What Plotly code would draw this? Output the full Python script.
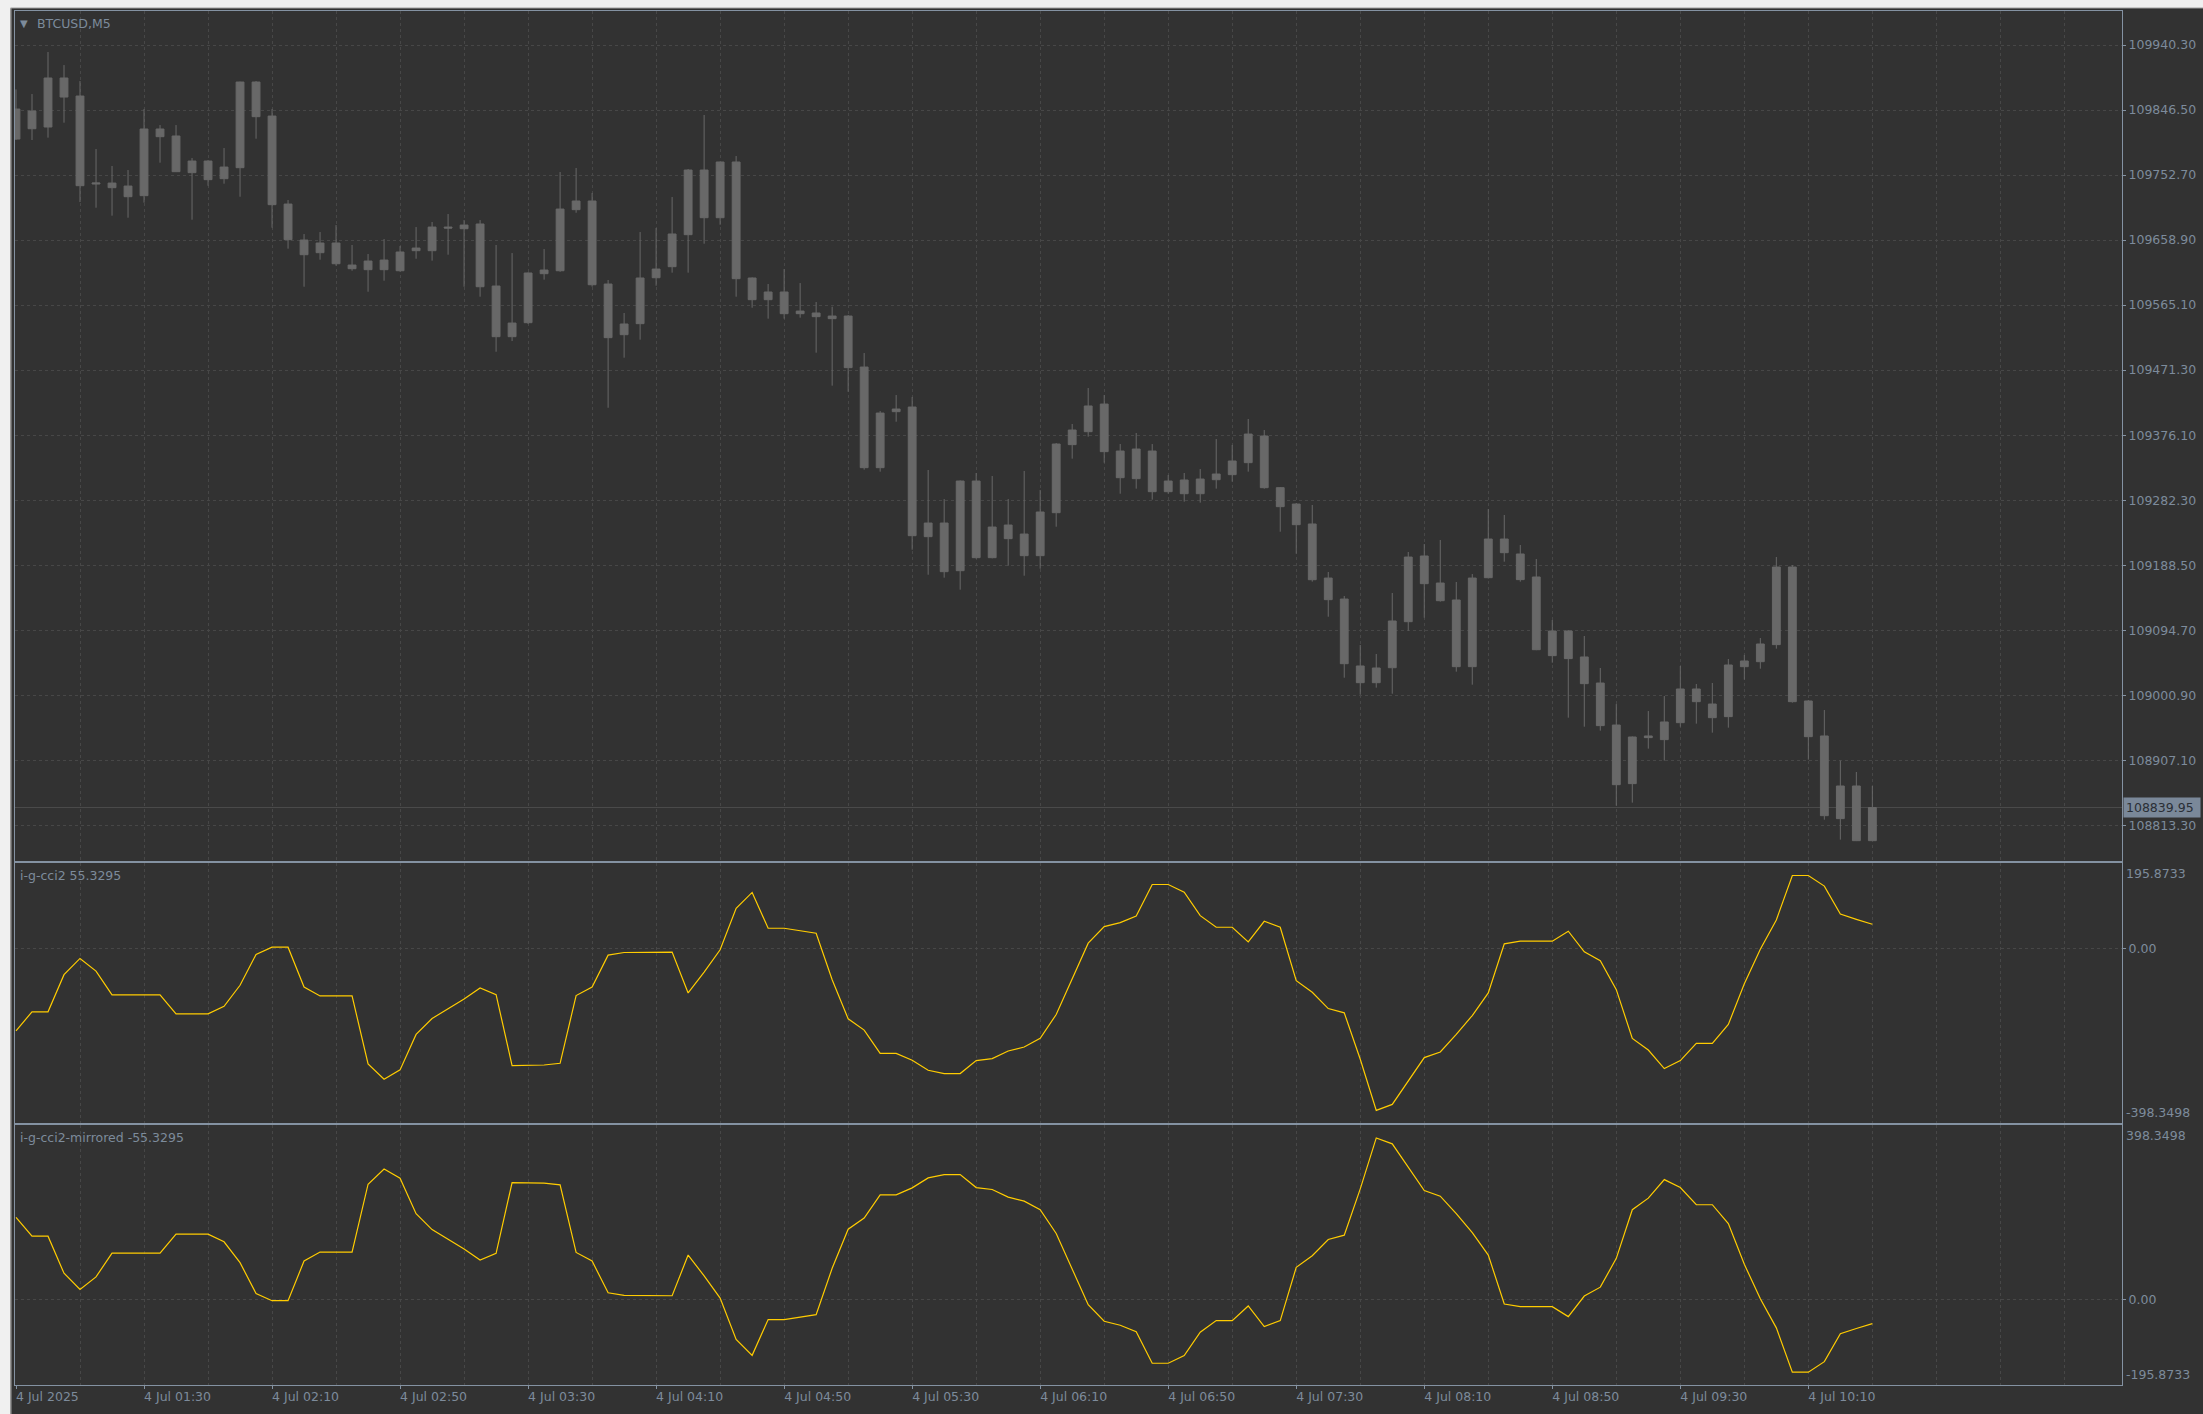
import pandas as pd
import plotly.graph_objects as go

# ---------------- data ----------------
symbol_title = "BTCUSD,M5"
start_time = "2025-07-04 00:50"

open_ = [109804.6, 109845.0, 109822.0, 109892.7, 109866.7, 109739.7, 109741.1, 109736.8, 109722.9, 109819.1,
         109809.0, 109756.1, 109772.9, 109747.4, 109763.3, 109886.9, 109837.8, 109710.8, 109658.9, 109640.6,
         109654.6, 109622.8, 109616.1, 109630.0, 109614.6, 109647.3, 109643.5, 109677.6, 109675.2, 109682.0,
         109592.5, 109519.4, 109539.6, 109610.3, 109614.6, 109702.7, 109715.2, 109595.4, 109522.3, 109538.2,
         109604.5, 109620.4, 109666.6, 109759.9, 109691.1, 109771.5, 109604.1, 109572.8, 109583.9, 109556.4,
         109553.6, 109545.4, 109549.2, 109475.6, 109330.4, 109411.2, 109417.9, 109230.8, 109250.5, 109181.7,
         109311.1, 109200.5, 109247.6, 109234.6, 109203.4, 109265.4, 109363.6, 109382.3, 109422.2, 109354.4,
         109314.5, 109354.4, 109295.7, 109312.6, 109292.8, 109313.0, 109320.3, 109337.6, 109376.1, 109301.5,
         109277.9, 109249.1, 109171.1, 109140.8, 109044.2, 109020.1, 109041.7, 109108.1, 109202.9, 109163.9,
         109139.4, 109043.2, 109171.6, 109227.4, 109205.8, 109172.6, 109059.1, 109094.7, 109057.2, 109019.6,
         108959.0, 108874.4, 108943.2, 108937.9, 108962.4, 109011.0, 108989.3, 108971.1, 109043.2, 109050.4,
         109075.0, 109187.0, 108993.7, 108943.2, 108823.9, 108871.0, 108792.1]
high = [109876.3, 109869.6, 109930.2, 109911.4, 109888.3, 109790.2, 109765.7, 109759.9, 109847.9, 109824.8,
        109824.8, 109777.2, 109774.3, 109791.6, 109887.5, 109888.3, 109847.9, 109716.6, 109667.5, 109670.4,
        109680.5, 109651.7, 109638.7, 109660.3, 109650.2, 109677.6, 109684.9, 109696.4, 109687.7, 109687.7,
        109651.7, 109640.1, 109612.2, 109645.9, 109757.0, 109762.8, 109726.7, 109601.2, 109553.6, 109670.4,
        109676.2, 109720.9, 109761.4, 109839.3, 109772.0, 109780.1, 109605.0, 109595.4, 109617.0, 109596.8,
        109569.4, 109562.7, 109550.7, 109495.8, 109412.1, 109435.2, 109432.3, 109327.0, 109285.1, 109312.0,
        109322.7, 109318.3, 109285.1, 109325.6, 109298.1, 109366.0, 109393.4, 109445.3, 109435.2, 109364.5,
        109380.4, 109364.5, 109319.8, 109322.7, 109328.4, 109371.7, 109363.1, 109400.6, 109384.7, 109302.5,
        109279.4, 109276.5, 109179.8, 109145.2, 109074.5, 109061.5, 109149.5, 109208.7, 109220.2, 109226.0,
        109165.4, 109176.9, 109270.7, 109262.1, 109218.8, 109198.6, 109110.6, 109096.1, 109087.5, 109041.3,
        108989.3, 108942.5, 108979.2, 109000.9, 109044.2, 109018.2, 109019.6, 109054.3, 109060.0, 109084.6,
        109201.5, 109189.9, 108995.1, 108980.7, 108907.6, 108891.2, 108871.0]
low = [109803.2, 109803.2, 109806.6, 109828.2, 109713.7, 109705.5, 109694.0, 109691.1, 109712.8, 109770.5,
       109757.0, 109688.2, 109737.3, 109740.2, 109721.4, 109805.1, 109676.7, 109646.4, 109591.5, 109630.5,
       109621.8, 109614.6, 109584.3, 109600.2, 109613.2, 109631.9, 109629.1, 109637.7, 109591.5, 109577.1,
       109497.7, 109513.1, 109537.7, 109601.7, 109613.0, 109698.3, 109591.6, 109416.9, 109489.1, 109515.1,
       109593.0, 109611.8, 109611.8, 109653.6, 109681.0, 109577.1, 109561.2, 109545.4, 109545.4, 109546.8,
       109496.3, 109448.7, 109440.0, 109327.5, 109324.6, 109396.7, 109212.0, 109175.9, 109171.6, 109154.3,
       109199.0, 109199.5, 109188.9, 109174.5, 109184.6, 109245.2, 109343.4, 109375.1, 109337.6, 109292.8,
       109300.1, 109284.2, 109292.8, 109281.3, 109279.9, 109300.1, 109310.2, 109324.6, 109300.0, 109238.0,
       109206.3, 109165.9, 109115.3, 109027.3, 109002.8, 109012.9, 109004.2, 109095.1, 109113.9, 109137.0,
       109036.0, 109017.2, 109170.5, 109194.7, 109165.9, 109067.0, 109049.0, 108969.6, 108956.6, 108950.9,
       108842.6, 108847.0, 108924.9, 108907.6, 108956.6, 108961.0, 108948.0, 108955.2, 109024.5, 109040.3,
       109069.2, 108991.3, 108909.0, 108822.4, 108793.6, 108791.5, 108791.5]
close = [109847.9, 109819.5, 109892.7, 109865.2, 109737.3, 109741.1, 109734.4, 109721.4, 109819.1, 109808.0,
         109757.5, 109772.9, 109746.0, 109764.2, 109886.9, 109836.9, 109709.9, 109659.4, 109637.7, 109654.6,
         109624.7, 109617.5, 109628.6, 109616.1, 109641.6, 109643.5, 109677.6, 109676.2, 109680.5, 109591.5,
         109519.4, 109539.1, 109611.3, 109615.6, 109703.6, 109715.2, 109594.4, 109518.0, 109537.7, 109604.1,
         109617.0, 109667.6, 109759.9, 109691.1, 109771.5, 109603.1, 109572.8, 109583.9, 109552.6, 109552.6,
         109548.3, 109549.2, 109474.7, 109330.4, 109409.2, 109415.0, 109232.2, 109250.5, 109180.3, 109311.1,
         109200.5, 109244.7, 109227.9, 109203.4, 109266.4, 109364.5, 109384.7, 109419.4, 109353.5, 109315.9,
         109357.3, 109295.7, 109311.1, 109292.8, 109314.0, 109321.2, 109340.0, 109378.9, 109301.5, 109274.1,
         109248.1, 109168.7, 109139.9, 109047.5, 109020.1, 109041.3, 109109.1, 109201.4, 109163.0, 109138.4,
         109043.2, 109171.1, 109227.4, 109207.7, 109168.8, 109067.7, 109094.7, 109054.8, 109018.7, 108958.1,
         108872.9, 108941.7, 108940.8, 108963.4, 109011.0, 108992.7, 108969.6, 109045.6, 109051.4, 109075.9,
         109187.0, 108992.7, 108942.2, 108828.2, 108871.0, 108792.1, 108839.95]

cci_name = "i-g-cci2"
cci = [-187.8, -144.6, -144.6, -59.8, -22.7, -51.5, -106.0, -106.0, -106.0, -106.0,
       -149.2, -149.2, -149.2, -131.8, -84.0, -13.6, 3.0, 3.0, -87.8, -108.3,
       -108.3, -108.3, -263.5, -298.3, -277.1, -196.1, -159.8, -137.1, -115.1, -90.1,
       -105.3, -267.3, -267.3, -266.0, -262.0, -107.5, -87.8, -15.1, -9.1, -8.3,
       -8.3, -8.3, -101.5, -53.8, -3.0, 91.6, 128.0, 46.2, 46.2, 40.1,
       34.8, -71.2, -160.5, -186.3, -239.3, -239.3, -255.2, -277.9, -285.5, -285.5,
       -255.9, -251.4, -234.0, -224.9, -205.2, -150.7, -71.2, 12.1, 50.0, 59.1,
       74.2, 146.1, 146.1, 128.7, 75.0, 48.5, 48.5, 15.1, 62.1, 48.5,
       -73.4, -99.9, -137.1, -146.9, -252.9, -369.5, -355.9, -302.1, -249.1, -236.2,
       -196.1, -153.0, -101.5, 10.6, 16.7, 16.7, 16.7, 39.4, -7.6, -28.0,
       -93.9, -205.2, -231.7, -274.1, -255.9, -216.6, -216.6, -173.4, -80.3, -1.5,
       65.1, 166.6, 166.6, 142.4, 78.7, 66.6, 55.3295]
cci_mirror_name = "i-g-cci2-mirrored"
cci_mirror = [-v for v in cci]

price_ticks = [109940.30, 109846.50, 109752.70, 109658.90, 109565.10, 109471.30, 109376.10,
               109282.30, 109188.50, 109094.70, 109000.90, 108907.10, 108813.30]
price_range = [108763.2, 109989.4]
cci_max = 195.8733
cci_min = -398.3498
last_price = 108839.95

# time axis
times = pd.date_range(start_time, periods=len(close), freq="5min")
bar = pd.Timedelta(minutes=5)
x_range = [times[0] - bar * 0.0625, times[0] + bar * 131.6]
label_times = pd.date_range(start_time, "2025-07-04 10:10", freq="40min")
label_text = ["4 Jul 2025"] + [t.strftime("4 Jul %H:%M") for t in label_times[1:]]

# ---------------- style ----------------
BG = "#323232"
CANDLE = "#686868"
GRID = "#474747"
FRAME = "#8492a2"
TXT = "#7d8b9b"
LINE = "#ffcc00"
FONT = "DejaVu Sans"
FS = 12.5

fig = go.Figure()

fig.add_trace(go.Candlestick(
    x=times, open=open_, high=high, low=low, close=close,
    increasing=dict(line=dict(color=CANDLE, width=1), fillcolor=CANDLE),
    decreasing=dict(line=dict(color=CANDLE, width=1), fillcolor=CANDLE),
    whiskerwidth=0, xaxis="x", yaxis="y", showlegend=False, hoverinfo="skip"))

fig.add_trace(go.Scatter(x=times, y=cci, mode="lines", line=dict(color=LINE, width=1.2),
                         xaxis="x2", yaxis="y2", showlegend=False, hoverinfo="skip"))
fig.add_trace(go.Scatter(x=times, y=cci_mirror, mode="lines", line=dict(color=LINE, width=1.2),
                         xaxis="x3", yaxis="y3", showlegend=False, hoverinfo="skip"))

W, H = 2203, 1414
ML, MR, MT, MB = 15, 81, 11, 29
PH = H - MT - MB          # plot height in px
PW = W - ML - MR


def py(px):               # pixel row -> paper fraction
    return (H - MB - px) / PH


def pxx(px):              # pixel column -> paper fraction
    return (px - ML) / PW


xcommon = dict(
    range=x_range, type="date", showline=True, mirror=True, linecolor=FRAME, linewidth=1,
    showgrid=True, gridcolor=GRID, griddash="3px,3px", gridwidth=1,
    tickmode="array", tickvals=label_times, ticktext=label_text,
    minor=dict(dtick=20 * 60 * 1000, tick0=start_time, showgrid=True, gridcolor=GRID,
               griddash="3px,3px", gridwidth=1, ticks=""),
    zeroline=False, fixedrange=True, rangeslider=dict(visible=False), automargin=False,
)

ycommon = dict(side="right", showline=True, mirror=True, linecolor=FRAME, linewidth=1,
               ticks="outside", ticklen=3, tickcolor=FRAME, zeroline=False,
               showgrid=True, gridcolor=GRID, griddash="3px,3px", gridwidth=1,
               tickfont=dict(family=FONT, size=FS, color=TXT), fixedrange=True,
               automargin=False)

fig.update_layout(
    template="none",
    width=W, height=H, margin=dict(l=ML, r=MR, t=MT, b=MB, autoexpand=False),
    paper_bgcolor=BG, plot_bgcolor=BG,
    font=dict(family=FONT, size=FS, color=TXT),
    showlegend=False,
    xaxis=dict(**xcommon, anchor="y", showticklabels=False, ticks=""),
    xaxis2=dict(**xcommon, anchor="y2", matches="x", showticklabels=False, ticks=""),
    xaxis3=dict(**xcommon, anchor="y3", matches="x", showticklabels=True, ticks="outside",
                ticklen=3, tickcolor=FRAME, ticklabelposition="outside right",
                ticklabelstandoff=0, ticklabelshift=-1,
                tickfont=dict(family=FONT, size=FS, color=TXT)),
    yaxis=dict(**ycommon, domain=[py(860.7), 1.0], range=price_range,
               tickmode="array", tickvals=price_ticks,
               ticktext=[f"{v:.2f}" for v in price_ticks]),
    yaxis2=dict(**ycommon, domain=[py(1123), py(862.7)], range=[cci_min, cci_max],
                tickmode="array", tickvals=[0], ticktext=["0.00"]),
    yaxis3=dict(**ycommon, domain=[0.0, py(1125.3)], range=[-cci_max, -cci_min],
                tickmode="array", tickvals=[0], ticktext=["0.00"]),
)

ann = []
# indicator window scale labels (top / bottom)
for yref, top_txt, bot_txt in [("y2 domain", f"{cci_max:.4f}", f"{cci_min:.4f}"),
                               ("y3 domain", f"{-cci_min:.4f}", f"{-cci_max:.4f}")]:
    ann.append(dict(xref="paper", yref=yref, x=1, y=1, xanchor="left", yanchor="top",
                    xshift=2, yshift=-1, text=top_txt, showarrow=False,
                    font=dict(family=FONT, size=FS, color=TXT)))
    ann.append(dict(xref="paper", yref=yref, x=1, y=0, xanchor="left", yanchor="bottom",
                    xshift=2, yshift=1, text=bot_txt, showarrow=False,
                    font=dict(family=FONT, size=FS, color=TXT)))
# current price tag
ann.append(dict(xref="paper", yref="y", x=1, y=last_price, xanchor="left", yanchor="middle",
                xshift=1, text=f"{last_price:.2f}", showarrow=False, bgcolor="#7a8899",
                borderpad=2, width=72, align="left",
                font=dict(family=FONT, size=FS, color="#2a2f36")))
# window titles
ann.append(dict(xref="paper", yref="paper", x=pxx(18), y=py(23), xanchor="left", yanchor="middle",
                text="▼", showarrow=False, font=dict(family=FONT, size=10, color=TXT)))
ann.append(dict(xref="paper", yref="paper", x=pxx(35), y=py(23.3), xanchor="left", yanchor="middle",
                text=symbol_title, showarrow=False, font=dict(family=FONT, size=FS, color=TXT)))
ann.append(dict(xref="paper", yref="paper", x=pxx(18), y=py(875.3), xanchor="left", yanchor="middle",
                text=f"{cci_name} {cci[-1]:.4f}", showarrow=False,
                font=dict(family=FONT, size=FS, color=TXT)))
ann.append(dict(xref="paper", yref="paper", x=pxx(18), y=py(1137), xanchor="left", yanchor="middle",
                text=f"{cci_mirror_name} {cci_mirror[-1]:.4f}", showarrow=False,
                font=dict(family=FONT, size=FS, color=TXT)))
fig.update_layout(annotations=ann)

shapes = [
    # current price line
    dict(type="line", xref="x domain", yref="y", x0=0, x1=1, y0=last_price, y1=last_price,
         line=dict(color="#4c4c4c", width=1), layer="below"),
    # light window chrome (top and left strips)
    dict(type="rect", xref="paper", yref="paper", x0=pxx(0), x1=pxx(W), y0=py(8), y1=py(0),
         fillcolor="#f0f0f0", line=dict(width=0), layer="above"),
    dict(type="line", xref="paper", yref="paper", x0=pxx(0), x1=pxx(W), y0=py(8), y1=py(8),
         line=dict(color="#a0a0a0", width=1), layer="above"),
    dict(type="rect", xref="paper", yref="paper", x0=pxx(0), x1=pxx(10.5), y0=py(H), y1=py(0),
         fillcolor="#f0f0f0", line=dict(width=0), layer="above"),
    dict(type="line", xref="paper", yref="paper", x0=pxx(11), x1=pxx(11), y0=py(H), y1=py(8),
         line=dict(color="#a0a0a0", width=1), layer="above"),
]
fig.update_layout(shapes=shapes)

fig.write_html("out.html", config={"displayModeBar": False},
               post_script="document.body.style.margin='0';document.body.style.overflow='hidden';")
